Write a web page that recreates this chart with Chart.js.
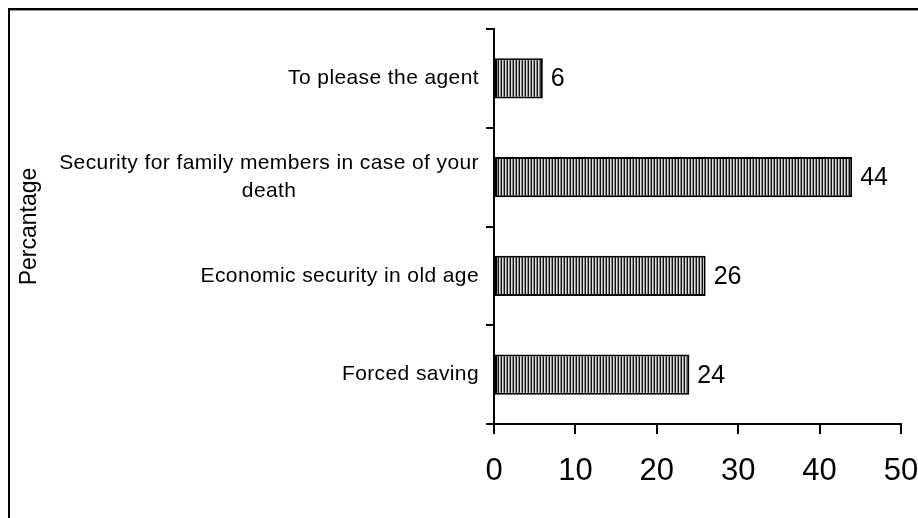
<!DOCTYPE html>
<html>
<head>
<meta charset="utf-8">
<script src="https://cdn.jsdelivr.net/npm/chart.js@4"></script>
<style>
  body { margin: 0; background: #fff; }
  #chart { display: block; }
</style>
</head>
<body>
<canvas id="chart" width="918" height="518"></canvas>
<script>
// данные графика
const categories = [
  ["To please the agent"],
  ["Security for family members in case of your", "death"],
  ["Economic security in old age"],
  ["Forced saving"]
];
const values = [6, 44, 26, 24];
const axisTitle = "Percantage";
const xMin = 0;
const xMax = 50;
const xStep = 10;

const FONT = "'Liberation Sans', Arial, sans-serif";

// штриховка столбцов (вертикальные полосы)
function makeStripes() {
  const c = document.createElement("canvas");
  c.width = 3;
  c.height = 1;
  const g = c.getContext("2d");
  const cols = ["#111", "#e0e0e0", "#888"];
  cols.forEach((col, i) => {
    g.fillStyle = col;
    g.fillRect(i, 0, 1, 1);
  });
  return g.createPattern(c, "repeat");
}

// рамка слева и сверху
const framePlugin = {
  id: "frame",
  beforeDraw(chart) {
    const ctx = chart.ctx;
    ctx.save();
    ctx.fillStyle = "#fff";
    ctx.fillRect(0, 0, chart.width, chart.height);
    ctx.fillStyle = "#000";
    ctx.fillRect(8, 8, chart.width - 8, 2);
    ctx.fillRect(8, 8, 2, chart.height - 8);
    ctx.fillStyle = "#999";
    ctx.fillRect(10, 10, chart.width - 10, 1);
    ctx.restore();
  }
};

// подписи категорий: блок справа, строки по центру
const labelsPlugin = {
  id: "catLabels",
  afterDraw(chart) {
    const ctx = chart.ctx;
    const y = chart.scales.y;
    const x = chart.scales.x;
    ctx.save();
    ctx.fillStyle = "#000";
    ctx.textBaseline = "middle";
    ctx.font = "21px " + FONT;
    ctx.letterSpacing = "0.4px";
    const right = 479;
    const lh = 28;
    categories.forEach((lines, i) => {
      const cy = y.getPixelForValue(i);
      const w = Math.max(...lines.map((l) => ctx.measureText(l).width));
      const cx = right - w / 2;
      ctx.textAlign = "center";
      lines.forEach((l, j) => {
        ctx.fillText(l, cx, cy + (j - (lines.length - 1) / 2) * lh);
      });
    });
    // значения у концов столбцов
    ctx.letterSpacing = "0px";
    ctx.font = "25px " + FONT;
    ctx.textAlign = "left";
    values.forEach((v, i) => {
      ctx.fillText(String(v), x.getPixelForValue(v) + 8, y.getPixelForValue(i) + 1);
    });
    ctx.restore();
  }
};

window.addEventListener("load", function () {
  const ctx = document.getElementById("chart").getContext("2d");
  const stripes = makeStripes();

  new Chart(ctx, {
    type: "bar",
    data: {
      labels: categories,
      datasets: [
        {
          data: values,
          backgroundColor: stripes,
          borderColor: "#000",
          borderWidth: 2,
          borderSkipped: false,
          categoryPercentage: 1,
          barPercentage: 0.41
        }
      ]
    },
    options: {
      indexAxis: "y",
      responsive: false,
      animation: false,
      layout: { padding: { top: 29, right: 17, left: 0, bottom: 0 } },
      plugins: {
        legend: { display: false },
        tooltip: { enabled: false }
      },
      scales: {
        x: {
          min: xMin,
          max: xMax,
          afterFit(scale) {
            scale.height = 94;
            scale.paddingRight = 0;
            scale.paddingLeft = 0;
          },
          border: { color: "#000", width: 2 },
          grid: {
            drawOnChartArea: false,
            color: "#000",
            lineWidth: 2,
            tickLength: 10
          },
          ticks: {
            stepSize: xStep,
            color: "#000",
            padding: 19,
            font: { family: FONT, size: 31 }
          }
        },
        y: {
          afterFit(scale) { scale.width = 494; },
          border: { color: "#000", width: 2 },
          grid: {
            offset: true,
            drawOnChartArea: false,
            color: "#000",
            lineWidth: 2,
            tickLength: 8
          },
          ticks: { display: false },
          title: {
            display: true,
            text: axisTitle,
            color: "#000",
            padding: { top: 16, bottom: 0 },
            font: { family: FONT, size: 23 }
          }
        }
      }
    },
    plugins: [framePlugin, labelsPlugin]
  });
});
</script>
</body>
</html>
